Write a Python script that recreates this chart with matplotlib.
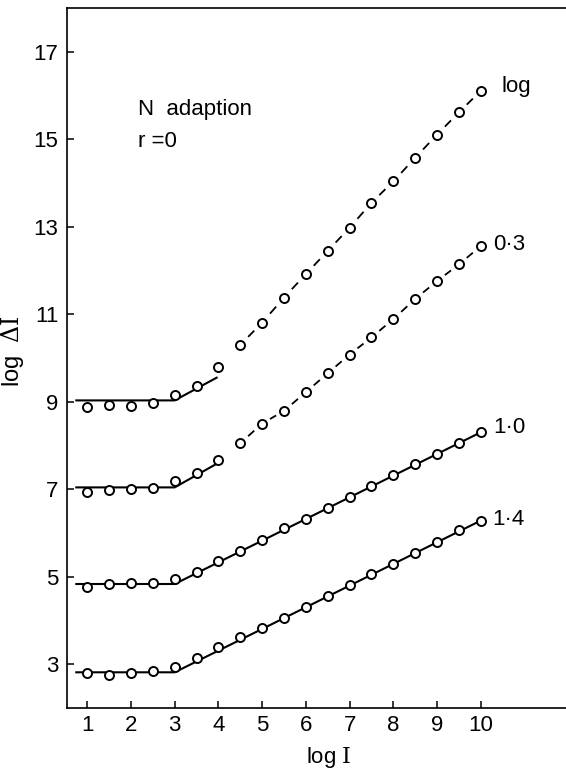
import numpy as np
import matplotlib
matplotlib.use('Agg')
import matplotlib.pyplot as plt

plt.rcParams['font.family'] = ['Liberation Sans', 'DejaVu Sans']
plt.rcParams['mathtext.fontset'] = 'custom'
plt.rcParams['mathtext.rm'] = 'DejaVu Serif'

# %% data
log_I = [1, 1.5, 2, 2.5, 3, 3.5, 4, 4.5, 5, 5.5, 6, 6.5, 7, 7.5, 8, 8.5, 9, 9.5, 10]

pts_log = [8.89, 8.92, 8.91, 8.97, 9.16, 9.37, 9.79, 10.30, 10.81, 11.38,
           11.92, 12.45, 12.98, 13.55, 14.04, 14.58, 15.11, 15.62, 16.11]
pts_03 = [6.94, 6.97, 7.00, 7.02, 7.18, 7.36, 7.66, 8.05, 8.50, 8.79,
          9.22, 9.65, 10.08, 10.47, 10.89, 11.35, 11.76, 12.14, 12.56]
pts_10 = [4.77, 4.84, 4.86, 4.86, 4.94, 5.11, 5.35, 5.58, 5.83, 6.10,
          6.32, 6.58, 6.82, 7.07, 7.32, 7.58, 7.81, 8.05, 8.30]
pts_14 = [2.79, 2.74, 2.79, 2.85, 2.93, 3.13, 3.39, 3.61, 3.82, 4.05,
          4.31, 4.56, 4.80, 5.05, 5.29, 5.55, 5.79, 6.06, 6.28]

# theory curves (solid)
fit_log_x, fit_log_y = [0.75, 3, 3.96], [9.03, 9.03, 9.55]
fit_03_x, fit_03_y = [0.75, 3, 3.96], [7.04, 7.04, 7.58]
fit_10_x, fit_10_y = [0.75, 3, 10], [4.83, 4.83, 8.30]
fit_14_x, fit_14_y = [0.75, 3, 10], [2.81, 2.81, 6.28]

curve_labels = ['log', '0·3', '1·0', '1·4']
label_pos = [(10.48, 16.21), (10.29, 12.60), (10.29, 8.40), (10.26, 6.31)]

dash_from = 7  # dashed joins start at log I = 4.5

fs = 16
fig = plt.figure(figsize=(5.66, 7.70), dpi=100)
ax = fig.add_axes([0.1178, 0.0809, 0.8822, 0.9083])

for fx, fy in [(fit_log_x, fit_log_y), (fit_03_x, fit_03_y),
               (fit_10_x, fit_10_y), (fit_14_x, fit_14_y)]:
    ax.plot(fx, fy, color='black', lw=1.5, zorder=2)

# short dashes between the points of the upper two series
for pts in [pts_log, pts_03]:
    for i in range(dash_from, len(log_I) - 1):
        x0, x1 = log_I[i], log_I[i + 1]
        y0, y1 = pts[i], pts[i + 1]
        ax.plot([x0 + 0.36 * (x1 - x0), x0 + 0.64 * (x1 - x0)],
                [y0 + 0.36 * (y1 - y0), y0 + 0.64 * (y1 - y0)],
                color='black', lw=1.3, zorder=2, solid_capstyle='butt')

for pts in [pts_log, pts_03, pts_10, pts_14]:
    ax.plot(log_I, pts, 'o', ms=6.5, mfc='white', mec='black', mew=1.4, zorder=3)

for lab, (lx, ly) in zip(curve_labels, label_pos):
    ax.text(lx, ly, lab, fontsize=fs, ha='left', va='center')

ax.text(2.15, 15.68, 'N  adaption', fontsize=fs, ha='left', va='center')
ax.text(2.15, 14.96, 'r =0', fontsize=fs, ha='left', va='center')

ax.set_xlim(0.53, 11.95)
ax.set_ylim(2, 18)
ax.set_xticks(range(1, 11))
ax.set_yticks(range(3, 18, 2))
ax.tick_params(direction='in', length=5, width=1.1, labelsize=fs)
ax.tick_params(axis='y', pad=6)
ax.tick_params(axis='x', pad=5)
for s in ['left', 'top', 'bottom']:
    ax.spines[s].set_linewidth(1.2)
ax.spines['right'].set_visible(False)

ax.set_xlabel(r'log $\mathrm{I}$', fontsize=fs)
ax.xaxis.set_label_coords(0.525, -0.053)
ax.set_ylabel(r'log  $\Delta\mathrm{I}$', fontsize=17)
ax.yaxis.set_label_coords(-0.082, 0.51)

fig.savefig('out.png', dpi=100)
